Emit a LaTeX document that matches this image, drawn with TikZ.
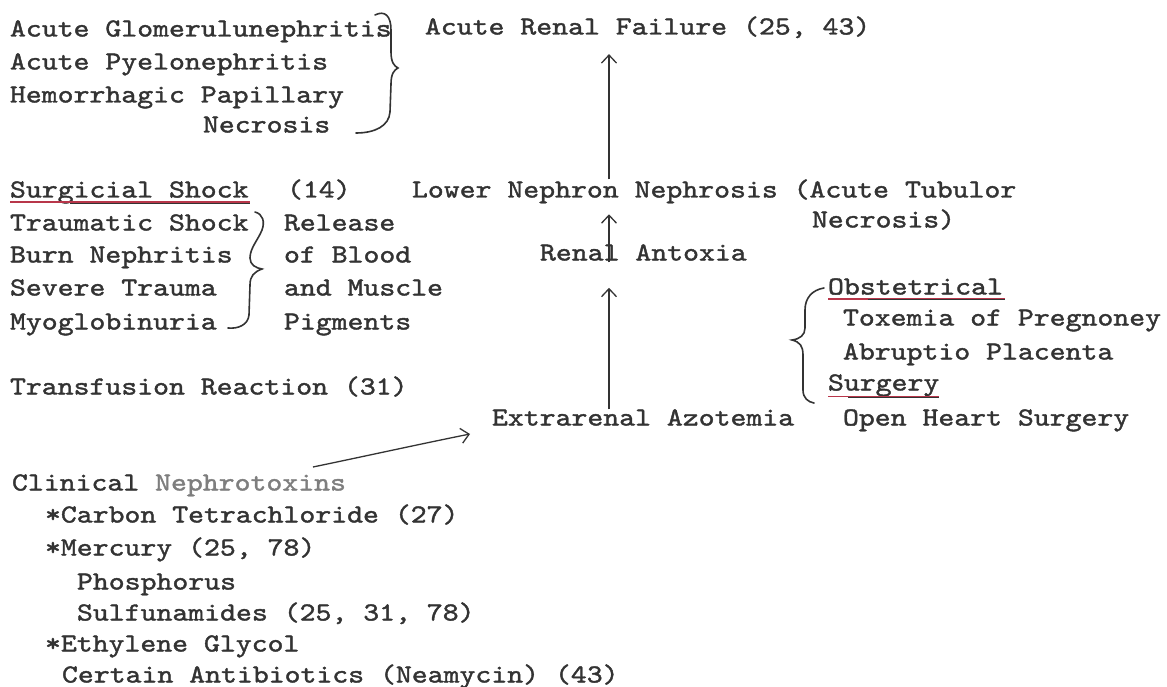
\documentclass[tikz,border=0pt]{standalone}
\usepackage{fontspec}
\newfontfamily\tw[FakeBold=1.5,FakeStretch=1.165]{lmmono10-regular.otf}
\usetikzlibrary{arrows.meta,calc}
\definecolor{ink}{HTML}{333333}
\definecolor{pale}{HTML}{7E7E7E}
\definecolor{redline}{HTML}{B8364A}
\begin{document}
\begin{tikzpicture}[x=1pt,y=-1pt,
  tx/.style={anchor=base west,inner sep=0pt,outer sep=0pt,text=ink,font=\fontsize{26}{32}\tw},
  arr/.style={draw=ink,line width=1.3pt,-{Straight Barb[length=8pt,width=15pt,line width=1.3pt]}},
  brace/.style={draw=ink,line width=1.6pt,line cap=round},
  uline/.style={line width=1.3pt}]
\useasboundingbox (0,0) rectangle (1167,687);
% top-left group
\node[tx] (g1) at (10,36.5) {Acute Glomerulunephritis};
\node[tx] (g2) at (10,69.5) {Acute Pyelonephritis};
\node[tx] (g3) at (10,102.5) {Hemorrhagic Papillary};
\node[tx] (g4) at (203,132.5) {Necrosis};
\node[tx] (arf) at (425,34.5) {Acute Renal Failure (25, 43)};
% middle-left group
\node[tx] (ss) at (10,197.5) {Surgicial Shock};
\node[tx] (n14) at (287,197.5) {(14)};
\node[tx] (lnn) at (412,197.5) {Lower Nephron Nephrosis (Acute Tubulor};
\node[tx] (lnn2) at (812,227.5) {Necrosis)};
\node[tx] (t1) at (10,230.5) {Traumatic Shock};
\node[tx] (t2) at (10,262.5) {Burn Nephritis};
\node[tx] (t3) at (10,295.5) {Severe Trauma};
\node[tx] (t4) at (10,329.5) {Myoglobinuria};
\node[tx] (r1) at (284,230.5) {Release};
\node[tx] (r2) at (284,262.5) {of Blood};
\node[tx] (r3) at (284,295.5) {and Muscle};
\node[tx] (r4) at (284,329.5) {Pigments};
\node[tx] (ra) at (540,260.5) {Renal Antoxia};
\node[tx] (tr) at (10,394.5) {Transfusion Reaction (31)};
% right group
\node[tx] (ob) at (828,294.5) {Obstetrical};
\node[tx] (ob1) at (843,325.5) {Toxemia of Pregnoney};
\node[tx] (ob2) at (843,359.5) {Abruptio Placenta};
\node[tx] (su) at (828,390.5) {Surgery};
\node[tx] (su1) at (843,425.5) {Open Heart Surgery};
\node[tx] (ex) at (492,425.5) {Extrarenal Azotemia};
% bottom group
\node[tx] (cn) at (12,490.5) {Clinical \textcolor{pale}{Nephrotoxins}};
\node[tx] (c1) at (45,522.5) {*Carbon Tetrachloride (27)};
\node[tx] (c2) at (45,555.5) {*Mercury (25, 78)};
\node[tx] (c3) at (77,589.5) {Phosphorus};
\node[tx] (c4) at (77,620.5) {Sulfunamides (25, 31, 78)};
\node[tx] (c5) at (45,651.5) {*Ethylene Glycol};
\node[tx] (c6) at (62,682.5) {Certain Antibiotics (Neamycin) (43)};
% underlines
\draw[uline,draw=redline] (ss.base west) ++(0,4.5) -- ++(240,0);
\draw[uline,draw=ink,line width=0.8pt] (ss.base west) ++(60,5.5) -- ++(180,0);
\draw[uline,draw=redline] (ob.base west) ++(0,4.5) -- ++(177,0);
\draw[uline,draw=ink,line width=0.8pt] (ob.base west) ++(40,5) -- ++(137,0);
\draw[uline,draw=redline] (su.base west) ++(0,6) -- ++(111,0);
\draw[uline,draw=ink,line width=0.8pt] (su.base west) ++(20,6.5) -- ++(91,0);
% arrows
\coordinate (ax) at (609,0);
\draw[arr] (lnn.north -| ax) -- ($(arf.south -| ax)+(0,16)$);
\draw[arr] ($(ra.north -| ax)+(0,18)$) -- ($(lnn.south -| ax)+(0,11)$);
\draw[arr] (ex.north -| ax) -- ($(ra.south -| ax)+(0,27)$);
\draw[arr] ($(cn.base east)+(-33,-23.5)$) .. controls ($(cn.base east)+(20,-34.5)$) and ($(ex.base west)+(-74,19)$) .. ($(ex.base west)+(-22,8.5)$);
% braces
\draw[brace] (375,15) .. controls (385,10) and (391,16) .. (391,30)
  -- (391,52) .. controls (391,62) and (394,66) .. (398,68)
  .. controls (394,70) and (391,74) .. (391,84)
  -- (390,112) .. controls (389,126) and (375,133) .. (356,133);
\draw[brace] (255,212) .. controls (263,214) and (265,222) .. (262,230)
  .. controls (258,240) and (250,248) .. (250,258)
  .. controls (250,265) and (256,268) .. (262,269)
  .. controls (254,272) and (250,276) .. (250,285)
  -- (249,315) .. controls (248,325) and (238,329) .. (228,328);
\draw[brace] (824,288) .. controls (812,290) and (805,298) .. (805,310)
  -- (805,328) .. controls (805,335) and (800,339) .. (792,340)
  .. controls (800,342) and (803,346) .. (803,355)
  -- (803,390) .. controls (803,398) and (808,402) .. (814,403);
\end{tikzpicture}
\end{document}
